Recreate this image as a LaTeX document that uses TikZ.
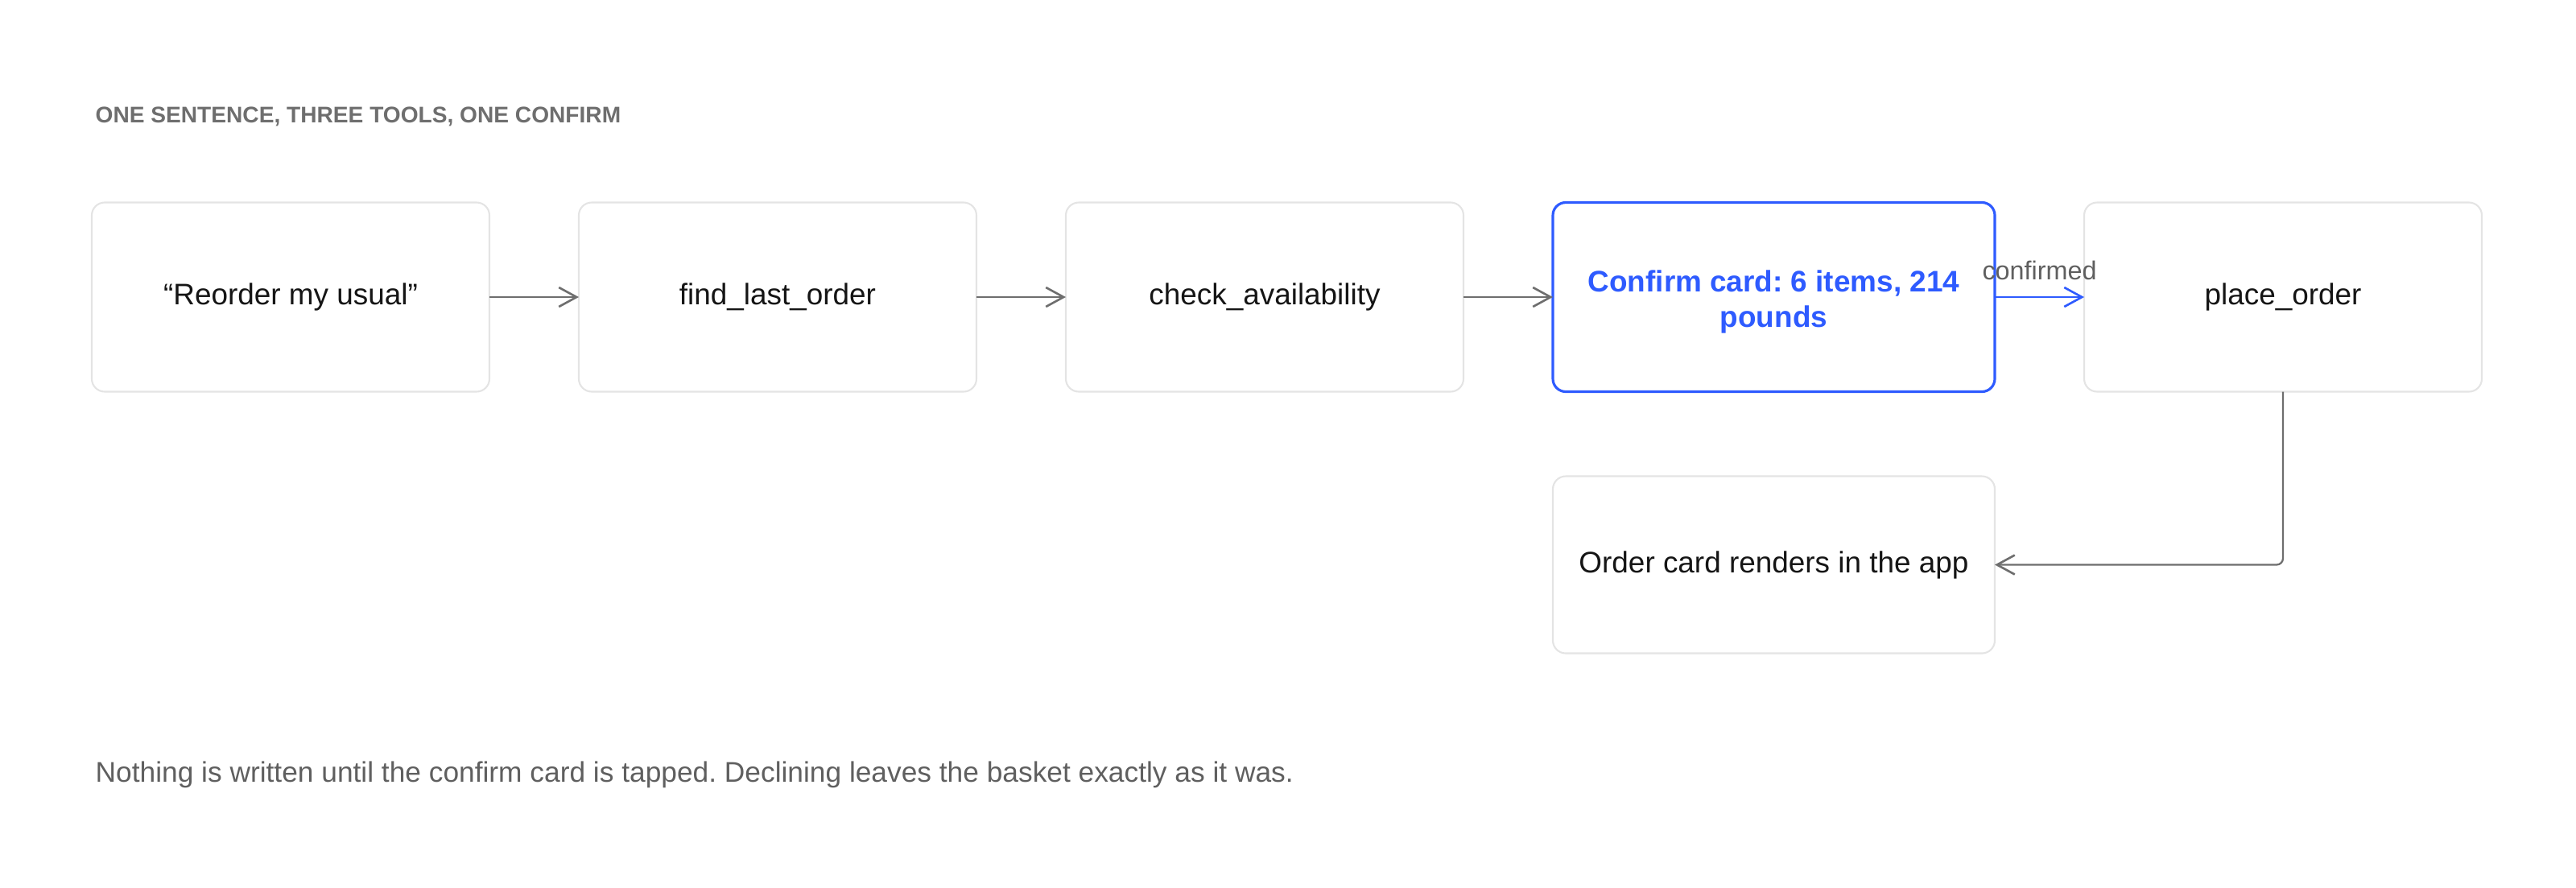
\documentclass[tikz,border=0pt]{standalone}
\usepackage{fontspec}
\setmainfont{Liberation Sans}
\usetikzlibrary{positioning,arrows.meta}
\definecolor{cardline}{HTML}{E4E4E4}
\definecolor{confirmblue}{HTML}{2E5BFF}
\definecolor{linkgray}{HTML}{6E6E6E}
\definecolor{notegray}{HTML}{5F5F5F}
\definecolor{inkblack}{HTML}{151515}
\frenchspacing

\begin{document}
\begin{tikzpicture}[scale = 1,
                card/.style={draw=cardline, line width=0.6pt, rounded corners=1.6mm, fill=white,
                    minimum width=4.94cm, minimum height=2.35cm, inner sep=0pt, outer sep=0pt,
                    text=inkblack, font=\fontsize{10.5}{13}\selectfont},
                widecard/.style={card, minimum width=5.49cm},
                link/.style={draw=linkgray, line width=0.65pt, -{Straight Barb[length=2.2mm, width=2.4mm, line width=0.75pt]}},
                node distance = 1.11cm]
                \useasboundingbox (0,0) rectangle (32,-11.02);
                % heading and note
                \node [anchor=base west, inner sep=0pt, text=linkgray, font=\fontsize{8}{10}\selectfont\bfseries] (heading) at (1.18,-1.52) {ONE SENTENCE, THREE TOOLS, ONE CONFIRM};
                \node [anchor=base west, inner sep=0pt, text=notegray, font=\fontsize{10.05}{12}\selectfont] (note) at (1.18,-9.71) {Nothing is written until the confirm card is tapped. Declining leaves the basket exactly as it was.};
                % the chain
                \node [card] (reorder) at (3.61,-3.69) {“Reorder my usual”};
                \node [card, right=of reorder] (findlast) {find\_last\_order};
                \node [card, right=of findlast] (checkavail) {check\_availability};
                \node [widecard, draw=confirmblue, line width=0.9pt, text=confirmblue, align=center,
                    font=\fontsize{10.5}{12.5}\selectfont\bfseries, right=of checkavail] (confirm) {\rule{0pt}{11pt}Confirm card: 6 items, 214\\pounds};
                \node [card, right=of confirm] (place) {place\_order};
                \node [widecard, minimum height=2.2cm, below=1.05cm of confirm] (render) {Order card renders in the app};
                % connectors
                \draw [link] (reorder) -- (findlast);
                \draw [link] (findlast) -- (checkavail);
                \draw [link] (checkavail) -- (confirm);
                \draw [link, draw=confirmblue] (confirm) -- node [midway, yshift=0.33cm, text=notegray, font=\fontsize{9.2}{11}\selectfont] {confirmed} (place);
                \draw [link, rounded corners=0.8mm] (place.south) |- (render.east);
            \end{tikzpicture}
\end{document}
